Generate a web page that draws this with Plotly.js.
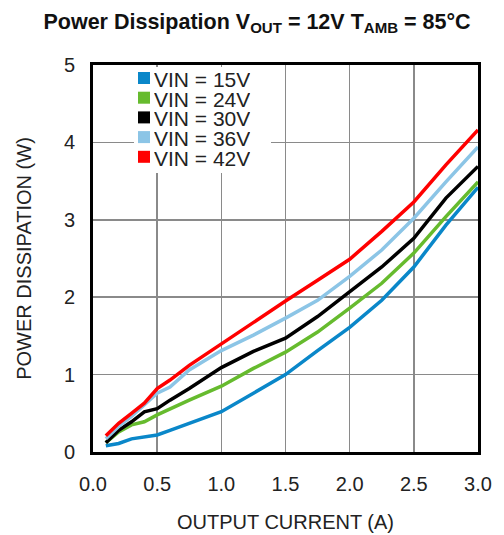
<!DOCTYPE html>
<html>
<head>
<meta charset="utf-8">
<script src="https://cdn.plot.ly/plotly-3.0.1.min.js"></script>
<style>html,body{margin:0;padding:0;background:#fff}#chart{width:504px;height:535px}</style>
</head>
<body>
<div id="chart"></div>
<script>
// Output current (A)
const current = [0.1, 0.2, 0.3, 0.4, 0.5, 0.6, 0.75, 1.0, 1.25, 1.5, 1.75, 2.0, 2.25, 2.5, 2.75, 3.0];
// Power dissipation (W) per input voltage
const vin15 = [0.08, 0.11, 0.17, 0.19, 0.22, 0.28, 0.37, 0.52, 0.76, 1.00, 1.31, 1.61, 1.96, 2.39, 2.93, 3.42];
const vin24 = [0.12, 0.26, 0.35, 0.39, 0.48, 0.56, 0.67, 0.85, 1.08, 1.29, 1.55, 1.86, 2.18, 2.57, 3.04, 3.49];
const vin30 = [0.12, 0.28, 0.39, 0.52, 0.56, 0.67, 0.82, 1.09, 1.30, 1.47, 1.75, 2.07, 2.39, 2.76, 3.28, 3.69];
const vin36 = [0.17, 0.33, 0.46, 0.61, 0.76, 0.84, 1.06, 1.31, 1.51, 1.73, 1.96, 2.27, 2.61, 3.02, 3.49, 3.94];
const vin42 = [0.21, 0.37, 0.50, 0.63, 0.82, 0.93, 1.12, 1.40, 1.68, 1.95, 2.22, 2.49, 2.85, 3.23, 3.71, 4.16];
const seriesNames = ["VIN = 15V", "VIN = 24V", "VIN = 30V", "VIN = 36V", "VIN = 42V"];
const seriesColors = ["#0a87c9", "#66bb2e", "#000000", "#8cc5e6", "#ff0000"];
const xTicks = [0, 0.5, 1.0, 1.5, 2.0, 2.5, 3.0];
const yTicks = [0, 1, 2, 3, 4, 5];

const seriesValues = [vin15, vin24, vin30, vin36, vin42];
const traces = seriesValues.map((v, i) => ({
  x: current, y: v, type: "scatter", mode: "lines", name: seriesNames[i],
  line: {color: seriesColors[i], width: 3.5}, showlegend: false, hoverinfo: "skip"
}));

// custom compact legend (pixel layout -> paper coords)
const L = 93, R = 478, T = 65, B = 452;
const px = p => (p - L) / (R - L);
const py = p => (B - p) / (B - T);
const shapes = [{
  type: "rect", xref: "paper", yref: "paper", layer: "above",
  x0: px(134), x1: px(271), y0: py(173), y1: py(67),
  fillcolor: "#ffffff", line: {width: 0}
}];
const annotations = [];
seriesNames.forEach((n, i) => {
  const cy = 78 + i * 19.7;
  shapes.push({type: "rect", xref: "paper", yref: "paper", layer: "above",
    x0: px(138), x1: px(150), y0: py(cy + 6), y1: py(cy - 6),
    fillcolor: seriesColors[i], line: {width: 0}});
  annotations.push({xref: "paper", yref: "paper", x: px(153), y: py(cy + 1),
    xanchor: "left", yanchor: "middle", showarrow: false, text: n,
    height: 18, borderpad: 0, valign: "middle",
    font: {family: "Liberation Sans, Arial, sans-serif", size: 21, color: "#222"}});
});

const layout = {
  width: 504, height: 535,
  margin: {l: L, r: 504 - R, t: T, b: 535 - B},
  paper_bgcolor: "#fff", plot_bgcolor: "#fff",
  font: {family: "Liberation Sans, Arial, sans-serif", color: "#222", size: 20},
  title: {
    text: "<b>Power Dissipation V<sub>OUT</sub> = 12V T<sub>AMB</sub> = 85°C</b>",
    font: {size: 21.5, color: "#111"}, xref: "container", x: 0.51, xanchor: "center",
    yref: "container", y: 1 - 21 / 535, yanchor: "middle"
  },
  xaxis: {
    range: [0, 3], tickvals: xTicks, tickformat: ".1f", ticks: "",
    showgrid: true, gridcolor: "#8a8a8a", gridwidth: 1.5, zeroline: false,
    showline: true, linecolor: "#000", linewidth: 3, mirror: true,
    ticklabelstandoff: 12, tickfont: {size: 20},
    title: {text: "OUTPUT CURRENT (A)", font: {size: 20}, standoff: 21}
  },
  yaxis: {
    range: [0, 5], tickvals: yTicks, ticks: "",
    showgrid: true, gridcolor: "#8a8a8a", gridwidth: 1.5, zeroline: false,
    showline: true, linecolor: "#000", linewidth: 3, mirror: true,
    ticklabelstandoff: 11, tickfont: {size: 20},
    title: {text: "POWER DISSIPATION (W)", font: {size: 20}, standoff: 27}
  },
  shapes: shapes, annotations: annotations
};
Plotly.newPlot("chart", traces, layout, {staticPlot: true, displayModeBar: false});
</script>
</body>
</html>
